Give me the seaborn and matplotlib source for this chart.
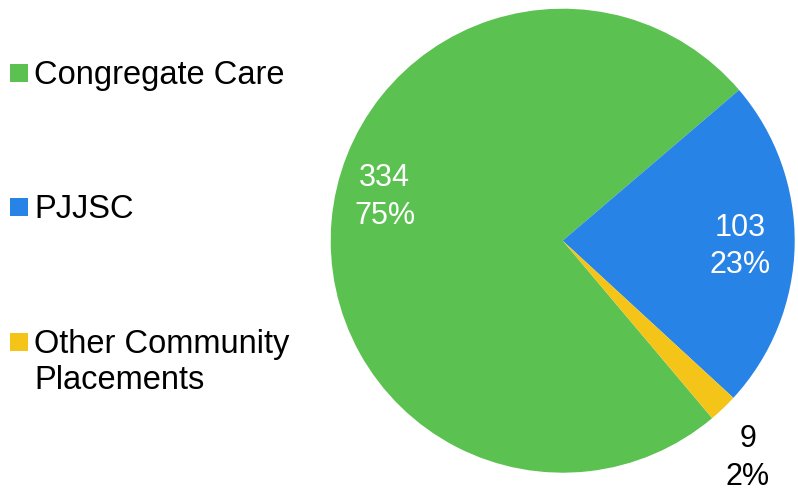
import textwrap

import numpy as np
import matplotlib
matplotlib.use("Agg")
import matplotlib.pyplot as plt
from matplotlib.patches import Rectangle
import seaborn as sns

# Placement counts by setting
categories = ["Congregate Care", "PJJSC", "Other Community Placements"]
counts = [334, 103, 9]
slice_colors = ["#5BC150", "#2783E5", "#F4C518"]
label_colors = ["white", "white", "black"]

# Label placement per slice: radial distance and angular nudge (degrees)
label_radius = [0.79, 0.765, 1.23]
label_shift = [-9.1, -0.9, -3.3]

sns.set_theme(style="white")
plt.rcParams["font.family"] = ["Liberation Sans", "DejaVu Sans"]

W, H, DPI = 798, 493, 100
fig = plt.figure(figsize=(W / DPI, H / DPI), dpi=DPI)
fig.patch.set_facecolor("white")

# Pie area: centre (563, 241) px, radius 232 px
cx, cy, r = 562.7, 240.7, 232.0
ax = fig.add_axes([(cx - r) / W, (H - cy - r) / H, 2 * r / W, 2 * r / H])

palette = sns.color_palette(slice_colors)
wedges, _ = ax.pie(
    counts,
    colors=palette,
    startangle=-49.9,
    counterclock=False,
    radius=1.0,
    wedgeprops=dict(linewidth=0),
)
ax.set_xlim(-1, 1)
ax.set_ylim(-1, 1)
ax.set_aspect("equal")
ax.axis("off")

total = sum(counts)
for w, n, rad, shift, tc in zip(wedges, counts, label_radius, label_shift, label_colors):
    mid = np.deg2rad((w.theta1 + w.theta2) / 2 + shift)
    pct = round(100 * n / total)
    ax.text(
        rad * np.cos(mid), rad * np.sin(mid), f"{n}\n{pct}%",
        ha="center", va="center", color=tc, fontsize=22,
        linespacing=1.32, clip_on=False,
    )

# Legend column on the left
legend_rows_y = [73, 207, 342]
for name, col, ly in zip(categories, palette, legend_rows_y):
    fig.patches.append(Rectangle(
        (10 / W, 1 - (ly + 9) / H), 18 / W, 18 / H,
        transform=fig.transFigure, facecolor=col, edgecolor="none",
    ))
    fig.text(
        34 / W, 1 - (ly - 13) / H, textwrap.fill(name, 16),
        ha="left", va="top", fontsize=23.5, color="black", linespacing=1.2,
    )

fig.savefig("out.png", dpi=DPI, facecolor="white")
